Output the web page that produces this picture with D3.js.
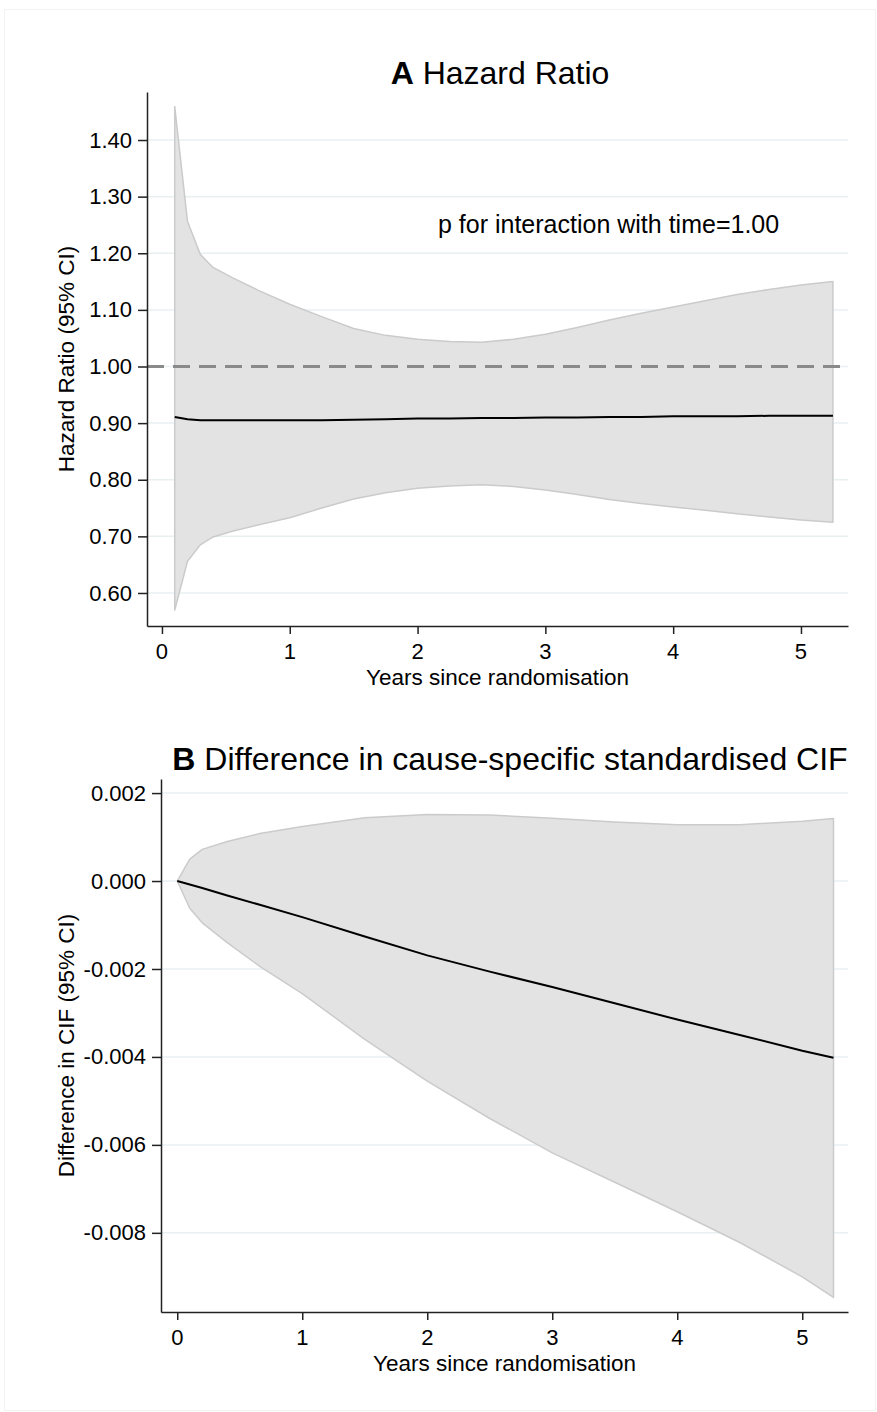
<!DOCTYPE html>
<html>
<head>
<meta charset="utf-8">
<script src="https://cdn.jsdelivr.net/npm/d3@7"></script>
<style>
  body { margin: 0; background: #fff; }
  svg text { font-family: "Liberation Sans", Arial, sans-serif; fill: #000; }
</style>
</head>
<body>
<svg id="fig" width="877" height="1412"></svg>
<script>
// === Panel A: hazard ratio over time ===
const hrYears = [0.1, 0.2, 0.3, 0.4, 0.55, 0.75, 1, 1.25, 1.5, 1.75, 2, 2.25, 2.5, 2.75, 3, 3.25, 3.5, 3.75, 4, 4.25, 4.5, 4.75, 5, 5.25];
const hrEst   = [0.911, 0.907, 0.905, 0.905, 0.905, 0.905, 0.905, 0.905, 0.906, 0.907, 0.908, 0.908, 0.909, 0.909, 0.910, 0.910, 0.911, 0.911, 0.912, 0.912, 0.912, 0.913, 0.913, 0.913];
const hrUpper = [1.459, 1.256, 1.198, 1.175, 1.157, 1.135, 1.110, 1.088, 1.067, 1.055, 1.048, 1.044, 1.043, 1.048, 1.057, 1.069, 1.082, 1.094, 1.105, 1.116, 1.127, 1.136, 1.144, 1.150];
const hrLower = [0.570, 0.656, 0.685, 0.699, 0.709, 0.720, 0.733, 0.750, 0.766, 0.777, 0.785, 0.789, 0.791, 0.788, 0.782, 0.774, 0.765, 0.758, 0.752, 0.746, 0.740, 0.734, 0.729, 0.725];
const hrTicks = [0.6, 0.7, 0.8, 0.9, 1.0, 1.1, 1.2, 1.3, 1.4];

// === Panel B: difference in cause-specific standardised CIF ===
const cifYears = [0, 0.1, 0.2, 0.4, 0.66, 1, 1.5, 2, 2.5, 3, 3.5, 4, 4.5, 5, 5.25];
const cifEst   = [0, -0.00008, -0.00016, -0.00033, -0.00054, -0.00082, -0.00126, -0.00169, -0.00206, -0.00241, -0.00278, -0.00315, -0.00350, -0.00386, -0.00402];
const cifUpper = [0, 0.00050, 0.00072, 0.00090, 0.00108, 0.00124, 0.00144, 0.00151, 0.00150, 0.00143, 0.00134, 0.00128, 0.00128, 0.00136, 0.00142];
const cifLower = [0, -0.00062, -0.00095, -0.00140, -0.00194, -0.00256, -0.00360, -0.00455, -0.00540, -0.00618, -0.00685, -0.00752, -0.00822, -0.00900, -0.00947];
const cifTicks = [0.002, 0, -0.002, -0.004, -0.006, -0.008];

const yearTicks = [0, 1, 2, 3, 4, 5];

const svg = d3.select("#fig");

// faint frame around the whole figure
svg.append("rect").attr("x", 4.5).attr("y", 9.5).attr("width", 871).attr("height", 1401)
  .attr("fill", "none").attr("stroke", "#f2f2f2");

drawPanel({
  years: hrYears, est: hrEst, upper: hrUpper, lower: hrLower, ticks: hrTicks,
  xDomain: [-0.117, 5.368], xRange: [147, 848],
  yDomain: [0.5417, 1.4848], yRange: [626, 92],
  fmt: d => d.toFixed(2),
  ylabel: "Hazard Ratio (95% CI)",
  letter: "A", title: " Hazard Ratio", titleX: 500, titleY: 84,
  tickY: 659, labelY: 685, refLine: 1.0
});

drawPanel({
  years: cifYears, est: cifEst, upper: cifUpper, lower: cifLower, ticks: cifTicks,
  xDomain: [-0.13, 5.366], xRange: [161, 848],
  yDomain: [-0.0098, 0.00232], yRange: [1312, 779],
  fmt: d => d.toFixed(3),
  ylabel: "Difference in CIF (95% CI)",
  letter: "B", title: " Difference in cause-specific standardised CIF", titleX: 510, titleY: 770,
  tickY: 1345, labelY: 1371, refLine: null
});

svg.append("text").attr("x", 438).attr("y", 233)
  .style("font-size", "25px").text("p for interaction with time=1.00");

function drawPanel(p) {
  const x = d3.scaleLinear().domain(p.xDomain).range(p.xRange);
  const y = d3.scaleLinear().domain(p.yDomain).range(p.yRange);
  const [left, right] = p.xRange;
  const [bottom, top] = p.yRange;

  // grid
  svg.append("g").selectAll("line").data(p.ticks).enter().append("line")
    .attr("x1", left).attr("x2", right)
    .attr("y1", d => y(d)).attr("y2", d => y(d))
    .attr("stroke", "#e8f0f2").attr("stroke-width", 1.5);

  const rows = p.years.map((t, i) => ({ t, est: p.est[i], lo: p.lower[i], hi: p.upper[i] }));

  // confidence band, outlined all round
  const area = d3.area().x(d => x(d.t)).y0(d => y(d.lo)).y1(d => y(d.hi));
  svg.append("path")
    .attr("d", area(rows) + "Z")
    .attr("fill", "#e3e3e3").attr("stroke", "#cbcbcb").attr("stroke-width", 1.5)
    .attr("stroke-linejoin", "round");

  if (p.refLine != null) {
    svg.append("line").attr("x1", left).attr("x2", right)
      .attr("y1", y(p.refLine)).attr("y2", y(p.refLine))
      .attr("stroke", "#8a8a8a").attr("stroke-width", 3).attr("stroke-dasharray", "17,9");
  }

  const line = d3.line().x(d => x(d.t)).y(d => y(d.est));
  svg.append("path").datum(rows).attr("d", line)
    .attr("fill", "none").attr("stroke", "#000").attr("stroke-width", 2);

  // axes
  const yAxis = svg.append("g").attr("transform", `translate(${left},0)`)
    .call(d3.axisLeft(y).tickValues(p.ticks).tickFormat(p.fmt).tickSize(9).tickSizeOuter(0).tickPadding(6));
  yAxis.selectAll("text").style("font-size", "22px").attr("fill", "#000");

  const xAxis = svg.append("g").attr("transform", `translate(0,${bottom})`)
    .call(d3.axisBottom(x).tickValues(yearTicks).tickFormat(d3.format("d")).tickSize(8).tickSizeOuter(0));
  xAxis.selectAll("text").remove();
  svg.append("g").selectAll("text").data(yearTicks).enter().append("text")
    .attr("x", d => x(d)).attr("y", p.tickY).attr("text-anchor", "middle")
    .style("font-size", "22px").text(d => d);

  svg.selectAll(".domain, .tick line").attr("stroke", "#222").attr("stroke-width", 1.5);

  svg.append("text").attr("x", (left + right) / 2).attr("y", p.labelY)
    .attr("text-anchor", "middle").style("font-size", "22.5px").text("Years since randomisation");

  svg.append("text").attr("transform", "rotate(-90)")
    .attr("x", -(top + bottom) / 2).attr("y", 74)
    .attr("text-anchor", "middle").style("font-size", "22.5px").text(p.ylabel);

  const t = svg.append("text").attr("x", p.titleX).attr("y", p.titleY)
    .attr("text-anchor", "middle").style("font-size", "32px");
  t.append("tspan").style("font-weight", "bold").text(p.letter);
  t.append("tspan").text(p.title);
}
</script>
</body>
</html>
